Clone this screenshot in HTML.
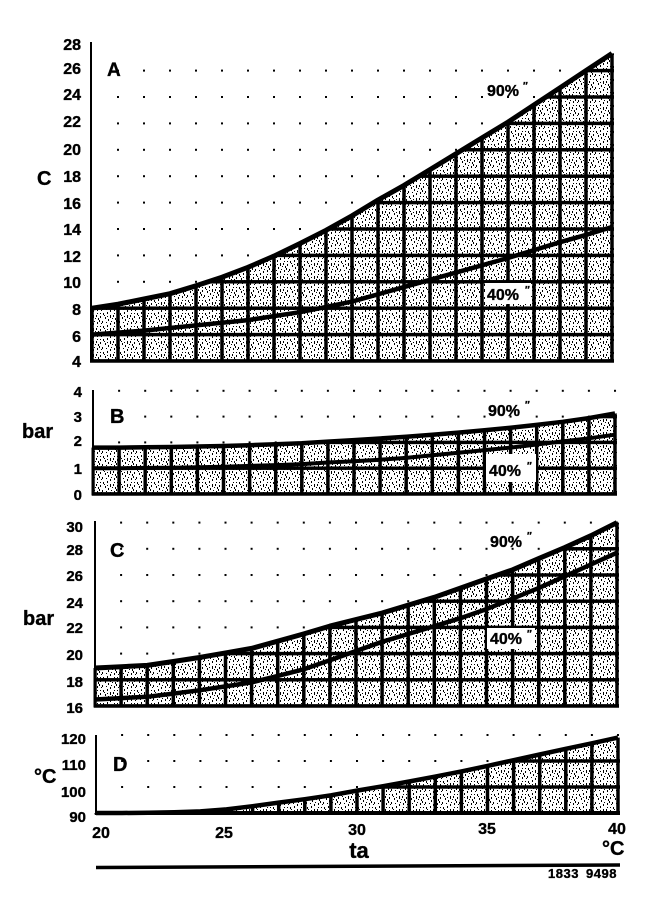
<!DOCTYPE html>
<html><head><meta charset="utf-8"><style>
html,body{margin:0;padding:0;background:#fff;}
svg{display:block;}
text{font-family:"Liberation Sans",Arial,sans-serif;font-weight:bold;fill:#000;stroke:#000;stroke-width:0.35;}
</style></head><body>
<svg width="672" height="898" viewBox="0 0 672 898" xmlns="http://www.w3.org/2000/svg">
<defs>
<pattern id="st" patternUnits="userSpaceOnUse" x="0" y="0" width="17" height="13">
<rect x="1" y="1" width="1" height="2"/><rect x="5" y="0" width="1" height="2"/><rect x="8" y="3" width="1" height="3"/>
<rect x="12" y="1" width="1" height="1"/><rect x="15" y="4" width="1" height="2"/><rect x="3" y="5" width="1" height="2"/>
<rect x="6" y="7" width="1" height="2"/><rect x="10" y="6" width="1" height="1"/><rect x="14" y="8" width="1" height="2"/>
<rect x="0" y="9" width="1" height="2"/><rect x="4" y="10" width="1" height="1"/><rect x="8" y="11" width="1" height="2"/>
<rect x="12" y="10" width="1" height="2"/><rect x="16" y="11" width="1" height="1"/><rect x="2" y="3" width="1" height="1"/>
<rect x="11" y="3" width="1" height="2"/><rect x="13" y="6" width="1" height="2"/>
<rect x="9" y="9" width="1" height="1"/><rect x="15" y="1" width="1" height="1"/><rect x="5" y="4" width="1" height="1"/>
</pattern>
<pattern id="gA" patternUnits="userSpaceOnUse" x="90.25" y="359.25" width="26" height="26.4"><rect x="0" y="0" width="3.5" height="26.4"/><rect x="0" y="0" width="26" height="3.5"/></pattern>
<pattern id="dA" patternUnits="userSpaceOnUse" x="91" y="360" width="26" height="26.4"><rect x="0" y="0" width="2" height="2"/></pattern>
<pattern id="gB" patternUnits="userSpaceOnUse" x="91.25" y="492.25" width="26.1" height="25.8"><rect x="0" y="0" width="3.5" height="25.8"/><rect x="0" y="0" width="26.1" height="3.5"/></pattern>
<pattern id="dB" patternUnits="userSpaceOnUse" x="92" y="493" width="26.1" height="25.8"><rect x="0" y="0" width="2" height="2"/></pattern>
<pattern id="gC" patternUnits="userSpaceOnUse" x="93.25" y="704.25" width="26.1" height="26.2"><rect x="0" y="0" width="3.5" height="26.2"/><rect x="0" y="0" width="26.1" height="3.5"/></pattern>
<pattern id="dC" patternUnits="userSpaceOnUse" x="94" y="705" width="26.1" height="26.2"><rect x="0" y="0" width="2" height="2"/></pattern>
<pattern id="gD" patternUnits="userSpaceOnUse" x="94.25" y="811.25" width="26.1" height="26"><rect x="0" y="0" width="3.5" height="26"/><rect x="0" y="0" width="26.1" height="3.5"/></pattern>
<pattern id="dD" patternUnits="userSpaceOnUse" x="95" y="812" width="26.1" height="26"><rect x="0" y="0" width="2" height="2"/></pattern>
</defs>

<!-- ===== Panel A ===== -->
<rect x="105" y="60" width="510" height="302" fill="url(#dA)"/>
<path d="M90.5,362.5 L90.5,308.2 L92,308.2 L118,304.2 L144,299.0 L170,293.7 L196,285.8 L222,277.2 L248,267.3 L274,256.1 L300,243.5 L326,230.3 L352,215.8 L378,200.0 L404,185.4 L430,169.6 L456,153.8 L482,137.9 L508,122.1 L534,104.9 L560,87.8 L586,70.6 L612,53.4 L614,53.4 L614,362.5 Z" fill="#fff"/>
<path d="M90.5,362.5 L90.5,308.2 L92,308.2 L118,304.2 L144,299.0 L170,293.7 L196,285.8 L222,277.2 L248,267.3 L274,256.1 L300,243.5 L326,230.3 L352,215.8 L378,200.0 L404,185.4 L430,169.6 L456,153.8 L482,137.9 L508,122.1 L534,104.9 L560,87.8 L586,70.6 L612,53.4 L614,53.4 L614,362.5 Z" fill="url(#st)"/>
<path d="M90.5,362.5 L90.5,308.2 L92,308.2 L118,304.2 L144,299.0 L170,293.7 L196,285.8 L222,277.2 L248,267.3 L274,256.1 L300,243.5 L326,230.3 L352,215.8 L378,200.0 L404,185.4 L430,169.6 L456,153.8 L482,137.9 L508,122.1 L534,104.9 L560,87.8 L586,70.6 L612,53.4 L614,53.4 L614,362.5 Z" fill="url(#gA)"/>
<rect x="485" y="283" width="46" height="21" fill="#fff"/>
<polyline points="92,308.2 118,304.2 144,299.0 170,293.7 196,285.8 222,277.2 248,267.3 274,256.1 300,243.5 326,230.3 352,215.8 378,200.0 404,185.4 430,169.6 456,153.8 482,137.9 508,122.1 534,104.9 560,87.8 586,70.6 612,53.4" fill="none" stroke="#000" stroke-width="5" stroke-linejoin="round"/>
<polyline points="92,334.6 118,332.6 144,330.6 170,328.0 196,325.4 222,322.7 248,320.1 274,316.1 300,312.2 326,306.9 352,301.6 378,294.3 404,287.1 430,279.8 456,272.6 482,265.3 508,258.0 534,250.1 560,242.2 586,234.9 612,227.0" fill="none" stroke="#000" stroke-width="4.5" stroke-linejoin="round"/>
<line x1="91" y1="42" x2="91" y2="362" stroke="#000" stroke-width="2"/>
<line x1="90" y1="361" x2="614" y2="361" stroke="#000" stroke-width="3.5"/>

<g font-size="16" text-anchor="end">
<text x="81" y="50">28</text><text x="81" y="74">26</text><text x="81" y="100">24</text><text x="81" y="127">22</text>
<text x="81" y="155">20</text><text x="81" y="182">18</text><text x="81" y="209">16</text><text x="81" y="235">14</text>
<text x="81" y="262">12</text><text x="81" y="288">10</text><text x="81" y="315">8</text><text x="81" y="342">6</text><text x="81" y="367">4</text>
</g>
<text x="37" y="185" font-size="20">C</text>
<text x="107" y="76" font-size="19">A</text>
<text x="487" y="96" font-size="16">90%</text><text x="523" y="89" font-size="10">″</text>
<text x="487" y="300" font-size="16">40%</text><text x="525" y="293" font-size="10">″</text>

<!-- ===== Panel B ===== -->
<rect x="105" y="388" width="512" height="106" fill="url(#dB)"/>
<path d="M91.5,495.5 L91.5,447.6 L93,447.6 L119.1,447.6 L145.2,447.3 L171.3,447.0 L197.4,446.5 L223.5,446.0 L249.6,445.2 L275.7,444.2 L301.8,443.2 L327.9,441.6 L354,440.1 L380.1,438.5 L406.2,436.7 L432.3,434.7 L458.4,432.6 L484.5,430.3 L510.6,427.7 L536.7,424.9 L562.8,421.8 L588.9,418.1 L615,413.5 L617,413.5 L617,495.5 Z" fill="#fff"/>
<path d="M91.5,495.5 L91.5,447.6 L93,447.6 L119.1,447.6 L145.2,447.3 L171.3,447.0 L197.4,446.5 L223.5,446.0 L249.6,445.2 L275.7,444.2 L301.8,443.2 L327.9,441.6 L354,440.1 L380.1,438.5 L406.2,436.7 L432.3,434.7 L458.4,432.6 L484.5,430.3 L510.6,427.7 L536.7,424.9 L562.8,421.8 L588.9,418.1 L615,413.5 L617,413.5 L617,495.5 Z" fill="url(#st)"/>
<path d="M91.5,495.5 L91.5,447.6 L93,447.6 L119.1,447.6 L145.2,447.3 L171.3,447.0 L197.4,446.5 L223.5,446.0 L249.6,445.2 L275.7,444.2 L301.8,443.2 L327.9,441.6 L354,440.1 L380.1,438.5 L406.2,436.7 L432.3,434.7 L458.4,432.6 L484.5,430.3 L510.6,427.7 L536.7,424.9 L562.8,421.8 L588.9,418.1 L615,413.5 L617,413.5 L617,495.5 Z" fill="url(#gB)"/>
<rect x="486" y="454" width="50" height="28" fill="#fff"/>
<polyline points="93,447.6 119.1,447.6 145.2,447.3 171.3,447.0 197.4,446.5 223.5,446.0 249.6,445.2 275.7,444.2 301.8,443.2 327.9,441.6 354,440.1 380.1,438.5 406.2,436.7 432.3,434.7 458.4,432.6 484.5,430.3 510.6,427.7 536.7,424.9 562.8,421.8 588.9,418.1 615,413.5" fill="none" stroke="#000" stroke-width="4.5" stroke-linejoin="round"/>
<polyline points="93,468.2 119.1,468.2 145.2,467.9 171.3,467.7 197.4,467.2 223.5,466.7 249.6,465.9 275.7,465.1 301.8,464.1 327.9,462.5 354,461.2 380.1,459.7 406.2,457.9 432.3,455.3 458.4,452.7 484.5,450.1 510.6,447.6 536.7,444.5 562.8,441.4 588.9,438.3 615,434.7" fill="none" stroke="#000" stroke-width="4" stroke-linejoin="round"/>
<line x1="93" y1="390" x2="93" y2="495" stroke="#000" stroke-width="2"/>
<line x1="92" y1="494" x2="617" y2="494" stroke="#000" stroke-width="3.5"/>
<g font-size="15" text-anchor="end">
<text x="82" y="397">4</text><text x="82" y="422">3</text><text x="82" y="446">2</text><text x="82" y="474">1</text><text x="82" y="500">0</text>
</g>
<text x="22" y="438" font-size="20">bar</text>
<text x="110" y="423" font-size="20">B</text>
<text x="488" y="416" font-size="16">90%</text><text x="525" y="408" font-size="10">″</text>
<text x="489" y="476" font-size="16">40%</text><text x="527" y="469" font-size="10">″</text>

<!-- ===== Panel C ===== -->
<rect x="105" y="518" width="514" height="188" fill="url(#dC)"/>
<path d="M93.5,707.5 L93.5,668 L95,668.0 L121.1,666.7 L147.2,665.4 L173.3,661.5 L199.4,657.5 L225.5,652.9 L251.6,648.4 L277.7,641.2 L303.8,633.9 L329.9,626.1 L356,619.5 L382.1,613.0 L408.2,605.1 L434.3,597.3 L460.4,588.1 L486.5,578.9 L512.6,569.8 L538.7,558.6 L564.8,547.5 L590.9,535.7 L617,522.6 L619,522.6 L619,707.5 Z" fill="#fff"/>
<path d="M93.5,707.5 L93.5,668 L95,668.0 L121.1,666.7 L147.2,665.4 L173.3,661.5 L199.4,657.5 L225.5,652.9 L251.6,648.4 L277.7,641.2 L303.8,633.9 L329.9,626.1 L356,619.5 L382.1,613.0 L408.2,605.1 L434.3,597.3 L460.4,588.1 L486.5,578.9 L512.6,569.8 L538.7,558.6 L564.8,547.5 L590.9,535.7 L617,522.6 L619,522.6 L619,707.5 Z" fill="url(#st)"/>
<path d="M93.5,707.5 L93.5,668 L95,668.0 L121.1,666.7 L147.2,665.4 L173.3,661.5 L199.4,657.5 L225.5,652.9 L251.6,648.4 L277.7,641.2 L303.8,633.9 L329.9,626.1 L356,619.5 L382.1,613.0 L408.2,605.1 L434.3,597.3 L460.4,588.1 L486.5,578.9 L512.6,569.8 L538.7,558.6 L564.8,547.5 L590.9,535.7 L617,522.6 L619,522.6 L619,707.5 Z" fill="url(#gC)"/>
<rect x="487" y="628" width="48" height="21" fill="#fff"/>
<polyline points="95,668.0 121.1,666.7 147.2,665.4 173.3,661.5 199.4,657.5 225.5,652.9 251.6,648.4 277.7,641.2 303.8,633.9 329.9,626.1 356,619.5 382.1,613.0 408.2,605.1 434.3,597.3 460.4,588.1 486.5,578.9 512.6,569.8 538.7,558.6 564.8,547.5 590.9,535.7 617,522.6" fill="none" stroke="#000" stroke-width="5" stroke-linejoin="round"/>
<polyline points="95,699.5 121.1,698.1 147.2,696.8 173.3,693.6 199.4,690.3 225.5,686.4 251.6,682.4 277.7,675.9 303.8,669.3 329.9,660.2 356,651.0 382.1,641.8 408.2,634.0 434.3,626.1 460.4,618.2 486.5,609.1 512.6,598.6 538.7,588.1 564.8,576.3 590.9,564.5 617,552.7" fill="none" stroke="#000" stroke-width="4.5" stroke-linejoin="round"/>
<line x1="95" y1="521" x2="95" y2="707" stroke="#000" stroke-width="2"/>
<line x1="94" y1="706" x2="619" y2="706" stroke="#000" stroke-width="3.5"/>
<g font-size="15" text-anchor="end">
<text x="83" y="532">30</text><text x="83" y="555">28</text><text x="83" y="581">26</text><text x="83" y="608">24</text>
<text x="83" y="633">22</text><text x="83" y="660">20</text><text x="83" y="687">18</text><text x="83" y="713">16</text>
</g>
<text x="23" y="625" font-size="20">bar</text>
<text x="110" y="557" font-size="20">C</text>
<text x="490" y="547" font-size="16">90%</text><text x="527" y="539" font-size="10">″</text>
<text x="490" y="644" font-size="16">40%</text><text x="527" y="637" font-size="10">″</text>

<!-- ===== Panel D ===== -->
<rect x="105" y="731" width="514" height="82" fill="url(#dD)"/>
<path d="M94.5,814.5 L94.5,813 L96,813 L122.1,813 L148.2,812.7 L174.3,812.2 L200.4,811.4 L226.5,809.4 L252.6,806.2 L278.7,802.6 L304.8,799.2 L330.9,795.3 L357,790.6 L383.1,786.2 L409.2,781.5 L435.3,776.6 L461.4,771.4 L487.5,765.9 L513.6,760.2 L539.7,754.5 L565.8,748.8 L591.9,743.3 L618,737.6 L620,737.6 L620,814.5 Z" fill="#fff"/>
<path d="M94.5,814.5 L94.5,813 L96,813 L122.1,813 L148.2,812.7 L174.3,812.2 L200.4,811.4 L226.5,809.4 L252.6,806.2 L278.7,802.6 L304.8,799.2 L330.9,795.3 L357,790.6 L383.1,786.2 L409.2,781.5 L435.3,776.6 L461.4,771.4 L487.5,765.9 L513.6,760.2 L539.7,754.5 L565.8,748.8 L591.9,743.3 L618,737.6 L620,737.6 L620,814.5 Z" fill="url(#st)"/>
<path d="M94.5,814.5 L94.5,813 L96,813 L122.1,813 L148.2,812.7 L174.3,812.2 L200.4,811.4 L226.5,809.4 L252.6,806.2 L278.7,802.6 L304.8,799.2 L330.9,795.3 L357,790.6 L383.1,786.2 L409.2,781.5 L435.3,776.6 L461.4,771.4 L487.5,765.9 L513.6,760.2 L539.7,754.5 L565.8,748.8 L591.9,743.3 L618,737.6 L620,737.6 L620,814.5 Z" fill="url(#gD)"/>
<polyline points="96,813 122.1,813 148.2,812.7 174.3,812.2 200.4,811.4 226.5,809.4 252.6,806.2 278.7,802.6 304.8,799.2 330.9,795.3 357,790.6 383.1,786.2 409.2,781.5 435.3,776.6 461.4,771.4 487.5,765.9 513.6,760.2 539.7,754.5 565.8,748.8 591.9,743.3 618,737.6" fill="none" stroke="#000" stroke-width="4.5" stroke-linejoin="round"/>
<line x1="96" y1="735" x2="96" y2="814" stroke="#000" stroke-width="2"/>
<line x1="95" y1="813" x2="620" y2="813" stroke="#000" stroke-width="4"/>
<g font-size="15" text-anchor="end">
<text x="86" y="744">120</text><text x="86" y="770">110</text><text x="86" y="797">100</text><text x="86" y="822">90</text>
</g>
<text x="34" y="783" font-size="20">°C</text>
<text x="113" y="771" font-size="20">D</text>

<!-- ===== X axis ===== -->
<g font-size="16" text-anchor="middle">
<text x="101" y="838">20</text><text x="224" y="838">25</text><text x="357" y="835">30</text><text x="487" y="834">35</text><text x="617" y="834">40</text>
</g>
<text x="359" y="858" font-size="22" text-anchor="middle">ta</text>
<text x="602" y="855" font-size="20">°C</text>
<line x1="96" y1="867.5" x2="620" y2="865" stroke="#000" stroke-width="3.5"/>
<text x="548" y="878" font-size="13" letter-spacing="0.5" word-spacing="3">1833 9498</text>
</svg>
</body></html>
